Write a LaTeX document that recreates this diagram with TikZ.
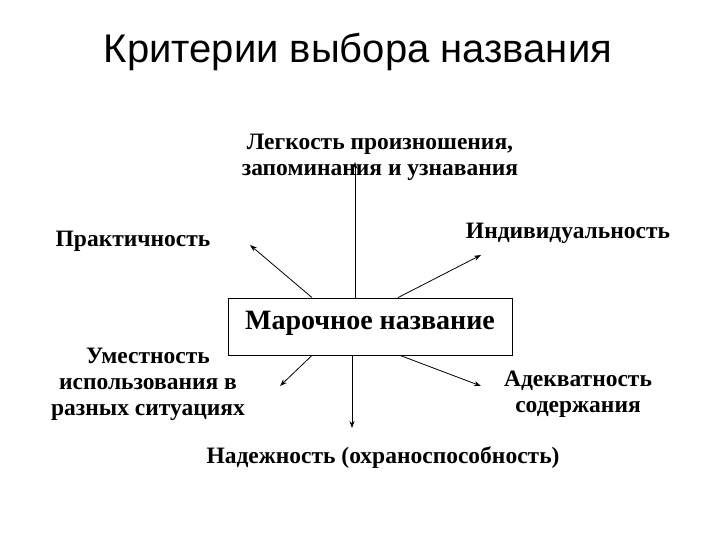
\documentclass[tikz,border=0pt]{standalone}
\usepackage{fontspec}
\usetikzlibrary{arrows.meta}
\setmainfont{Liberation Serif}
\newfontfamily\titlefont{Liberation Sans}
\begin{document}
\begin{tikzpicture}[x=1pt,y=-1pt,
  lbl/.style={font=\fontsize{23.5}{26}\selectfont\bfseries, align=center, inner sep=0pt},
  arr/.style={-{Stealth[length=7pt,width=5pt]}, line width=0.8pt}]
\useasboundingbox (0,0) rectangle (720,540);
\node[font=\titlefont\fontsize{40}{44}\selectfont] (title) at (358,52) {Критерии выбора названия};
\node[draw, line width=0.8pt, minimum width=284pt, minimum height=57pt] (box) at (370,326.5) {};
\node[font=\fontsize{28}{30}\selectfont\bfseries] (boxt) at (370,323) {Марочное название};
\node[lbl] (l1) at (380,157) {Легкость произношения,\\запоминания и узнавания};
\node[lbl] (l2) at (133,241) {Практичность};
\node[lbl] (l3) at (568,233) {Индивидуальность};
\node[lbl] (l4) at (148,384) {Уместность\\использования в\\разных ситуациях};
\node[lbl] (l5) at (578,394) {Адекватность\\содержания};
\node[lbl] (l6) at (383,458) {Надежность (охраноспособность)};
\coordinate (a1) at (355,162);
\coordinate (a2) at (250,245);
\coordinate (a3) at (481,255);
\coordinate (a4) at (280,386);
\coordinate (a5) at (352,428);
\coordinate (a6) at (481,386);
\draw[arr] (box.north -| a1) -- (a1);
\draw[arr] ([xshift=-58pt]box.north) -- (a2);
\draw[arr] ([xshift=28pt]box.north) -- (a3);
\draw[arr] ([xshift=-58pt]box.south) -- (a4);
\draw[arr] (box.south -| a5) -- (a5);
\draw[arr] ([xshift=30pt]box.south) -- (a6);
\end{tikzpicture}
\end{document}
